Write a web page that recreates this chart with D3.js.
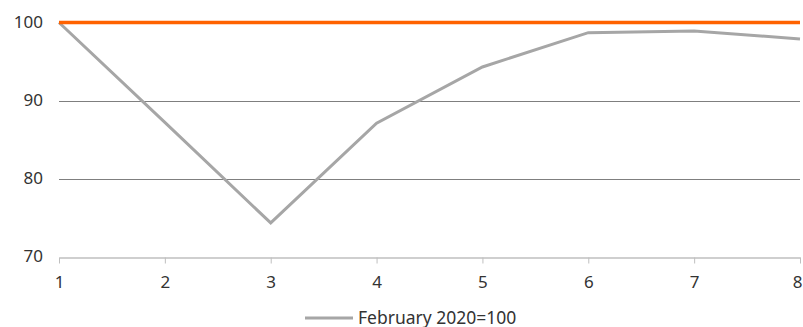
<!DOCTYPE html>
<html>
<head>
<meta charset="utf-8">
<script src="https://cdn.jsdelivr.net/npm/d3@7"></script>
<style>
  html, body { margin: 0; padding: 0; background: #fff; }
  svg { display: block; font-family: "Noto Sans", "Open Sans", sans-serif; }
</style>
</head>
<body>
<svg id="chart" width="803" height="327"></svg>
<script>
// Months since the pre-crisis reference point
const periods = [1, 2, 3, 4, 5, 6, 7, 8];
// Index level, February 2020 = 100
const indexValues = [100, 87.2, 74.3, 87.1, 94.3, 98.7, 98.9, 97.9];
// Reference level
const baseline = [100, 100, 100, 100, 100, 100, 100, 100];
const yTicks = [70, 80, 90, 100];
const legendLabel = "February 2020=100";

const svg = d3.select("#chart");
const margin = { left: 59, right: 3, top: 22.5, bottom: 70.5 };
const W = 803, H = 327;

const x = d3.scaleLinear().domain([1, 8]).range([margin.left, W - margin.right]);
const y = d3.scaleLinear().domain([70, 100]).range([H - margin.bottom, margin.top]);

// Horizontal gridlines
svg.append("g")
  .selectAll("line")
  .data(yTicks.filter(d => d > 70))
  .join("line")
  .attr("x1", x(1)).attr("x2", x(8))
  .attr("y1", d => Math.round(y(d)) + 0.5).attr("y2", d => Math.round(y(d)) + 0.5)
  .attr("stroke", "#7f7f7f").attr("stroke-width", 1);

// Y axis labels (no axis line)
const yAxis = svg.append("g")
  .attr("transform", `translate(${margin.left},0)`)
  .call(d3.axisLeft(y).tickValues(yTicks).tickSize(0).tickPadding(16));
yAxis.select(".domain").remove();
yAxis.selectAll("text")
  .attr("font-size", 17).attr("fill", "#333")
  .attr("font-family", "\"Noto Sans\", sans-serif");

// X axis along the bottom
const xAxis = svg.append("g")
  .attr("transform", `translate(0,${Math.round(y(70)) + 0.5})`)
  .call(d3.axisBottom(x).tickValues(periods).tickFormat(d3.format("d")).tickSize(6).tickPadding(12).tickSizeOuter(0));
xAxis.select(".domain").attr("stroke", "#bfbfbf").attr("stroke-width", 1.5);
xAxis.selectAll(".tick line").attr("stroke", "#bfbfbf");
xAxis.selectAll("text")
  .attr("font-size", 17).attr("fill", "#333")
  .attr("font-family", "\"Noto Sans\", sans-serif");
// keep the last label inside the canvas
xAxis.selectAll(".tick text").filter(d => d === periods[periods.length - 1]).attr("dx", -3);

const line = d3.line().x((d, i) => x(periods[i])).y(d => y(d));

// Index series
svg.append("path")
  .datum(indexValues)
  .attr("d", line)
  .attr("fill", "none")
  .attr("stroke", "#a6a6a6")
  .attr("stroke-width", 3)
  .attr("stroke-linejoin", "miter");

// Baseline at 100
svg.append("path")
  .datum(baseline)
  .attr("d", line)
  .attr("fill", "none")
  .attr("stroke", "#ff6200")
  .attr("stroke-width", 3.5);

// Legend
const lg = svg.append("g").attr("transform", "translate(305,318)");
lg.append("line")
  .attr("x1", 0).attr("x2", 48).attr("y1", 0).attr("y2", 0)
  .attr("stroke", "#a6a6a6").attr("stroke-width", 3);
lg.append("text")
  .attr("x", 53).attr("y", 5.5)
  .attr("font-size", 17.5).attr("fill", "#333")
  .text(legendLabel);
</script>
</body>
</html>
